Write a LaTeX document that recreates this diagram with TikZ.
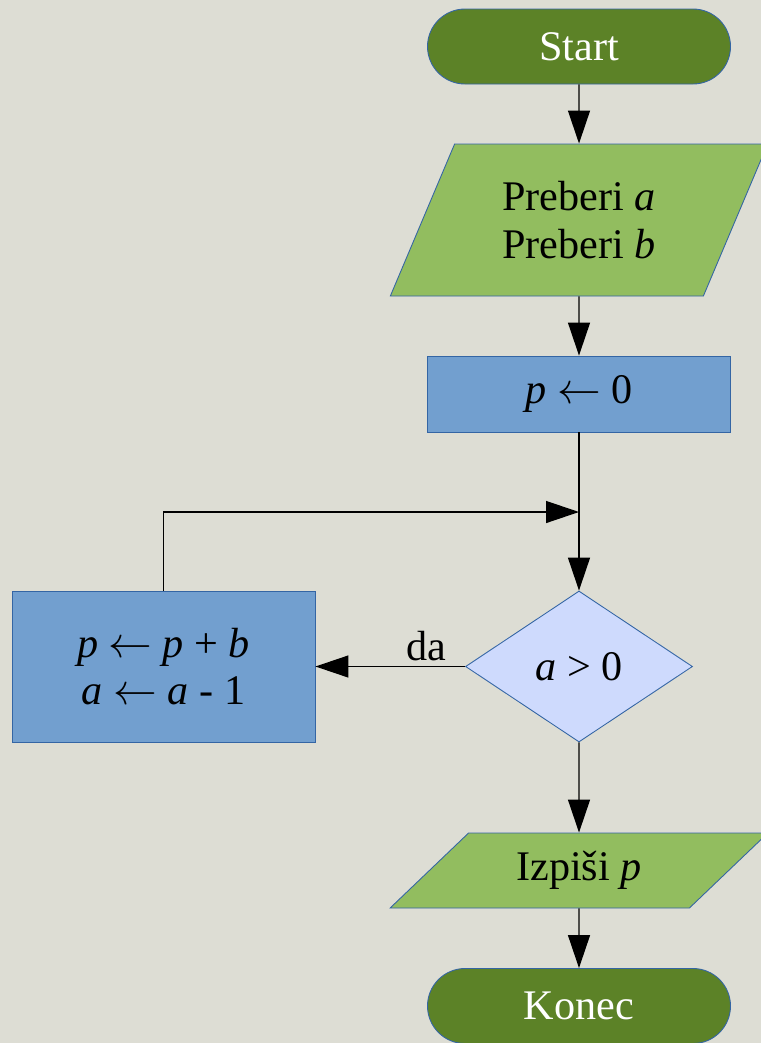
\documentclass[tikz,border=0pt]{standalone}
\usepackage{fontspec}
\setmainfont{Liberation Serif}
\usetikzlibrary{shapes.geometric, arrows.meta}
\definecolor{bgcol}{RGB}{221,221,212}
\definecolor{darkgreen}{RGB}{92,130,39}
\definecolor{lightgreen}{RGB}{146,189,95}
\definecolor{stepblue}{RGB}{114,159,207}
\definecolor{condblue}{RGB}{206,218,253}
\definecolor{edgeblue}{RGB}{52,101,164}
\tikzstyle{terminal} = [rectangle, rounded corners=7.5mm, minimum width=6.06cm, minimum height=1.5cm, text centered, draw=edgeblue, line width=0.5pt, fill=darkgreen, text=white]
\tikzstyle{io} = [trapezium, trapezium stretches=true, minimum width=7.56cm, text centered, align=center, draw=edgeblue, line width=0.5pt, fill=lightgreen]
\tikzstyle{process} = [rectangle, minimum width=6.06cm, text centered, align=center, draw=edgeblue, line width=0.5pt, fill=stepblue]
\tikzstyle{decision} = [diamond, minimum width=4.54cm, minimum height=3.02cm, text centered, draw=edgeblue, line width=0.5pt, fill=condblue]
\tikzstyle{arrow} = [line width=0.75pt, -{Triangle[length=6.6mm, width=4.4mm]}]

\begin{document}
\begin{tikzpicture}[node distance=3.47cm, font=\fontsize{24}{27}\selectfont]
	\fill [bgcol] (0,0) rectangle (15.22,-20.86);
	\useasboundingbox (0,0) rectangle (15.22,-20.86);
	\node (start) [terminal] at (11.58,-0.93) {Start};
	\node (read) [io, below of=start, minimum height=3.04cm, trapezium left angle=64.35, trapezium right angle=115.65] {Preberi \textit{a}\\Preberi \textit{b}};
	\node (init) [process, below of=read, node distance=3.48cm, minimum height=1.52cm] {\textit{p} $\leftarrow$ 0};
	\node (cond) [decision, below of=init, node distance=5.45cm] {\textit{a} > 0};
	\node (body) [process, left of=cond, node distance=8.31cm, minimum height=3.02cm] {\textit{p} $\leftarrow$ \textit{p} + \textit{b}\\\textit{a} $\leftarrow$ \textit{a} - 1};
	\node (write) [io, below of=cond, node distance=4.08cm, minimum height=1.5cm, trapezium left angle=45.8, trapezium right angle=134.2] {Izpiši \textit{p}};
	\node (stop) [terminal, below of=write, node distance=2.71cm] {Konec};
	\coordinate (join) at (11.58,-10.24);

	\draw [arrow] (start) -- (read);
	\draw [arrow] (read) -- (init);
	\draw [line width=0.75pt] (init) -- (join);
	\draw [arrow] (join) -- (cond);
	\draw [arrow] (cond) -- node [above, pos=0.26, inner sep=3pt] {da} (body);
	\draw [arrow] (body.north) |- (join);
	\draw [arrow] (cond) -- (write);
	\draw [arrow] (write) -- (stop);
\end{tikzpicture}
\end{document}
